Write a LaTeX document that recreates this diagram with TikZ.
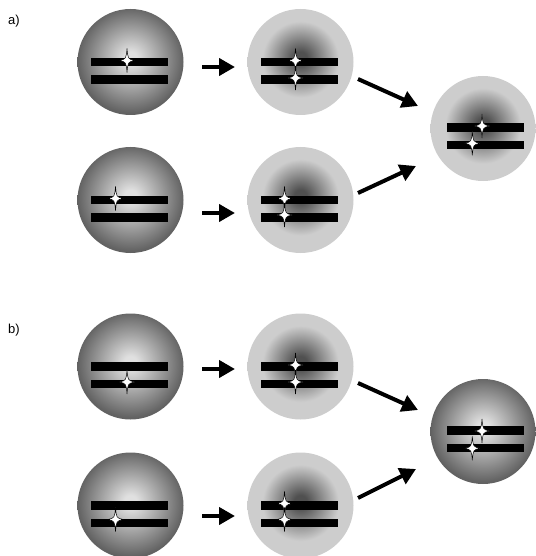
\documentclass[tikz,border=0pt]{standalone}
\usepackage{fontspec}
\setmainfont{Liberation Sans}
\usetikzlibrary{arrows.meta}
\definecolor{dcen}{RGB}{224,224,224}
\definecolor{drim}{RGB}{98,98,98}
\definecolor{lcen}{RGB}{80,80,80}
\definecolor{lrim}{RGB}{205,205,205}
\pgfdeclareradialshading{darkball}{\pgfpoint{0bp}{2bp}}{color(0bp)=(dcen); color(3bp)=(dcen); color(25bp)=(drim); color(50bp)=(drim)}
\pgfdeclareradialshading{lightball}{\pgfpoint{0bp}{2bp}}{color(0bp)=(lcen); color(3bp)=(lcen); color(18bp)=(lrim); color(25bp)=(lrim); color(50bp)=(lrim)}
\tikzset{
  ball/.style={circle, minimum size=106pt, inner sep=0pt, outer sep=0pt},
  darksph/.style={ball, shade, shading=darkball},
  lightsph/.style={ball, shade, shading=lightball},
  arr/.style={line width=4pt, -{Triangle[length=16pt,width=17pt]}},
  lab/.style={font=\fontsize{13}{15}\selectfont, anchor=base west, inner sep=0pt},
  bars/.pic={\fill[black] (-38.5,-4.25) rectangle (38.5,4.25);
             \fill[black] (-38.5,13.25) rectangle (38.5,21.75);},
  spark/.pic={\filldraw[fill=white, draw=black, line width=0.5pt]
     (0,-12) .. controls (0.9,-1.6) .. (7.5,0) .. controls (0.9,1.6) .. (0,12)
     .. controls (-0.9,1.6) .. (-7.5,0) .. controls (-0.9,-1.6) .. cycle;}
}
\begin{document}
\begin{tikzpicture}[x=1pt,y=-1pt]
\useasboundingbox (0,0) rectangle (535,556);
% labels
\node[lab] (la) at (8,25) {a)};
\node[lab] (lb) at (8,333) {b)};
% spheres a)
\node[darksph] (s1) at (130.5,62) {};
\node[lightsph] (s2) at (300.5,62) {};
\node[lightsph, minimum size=105pt] (s3) at (483,128.5) {};
\node[darksph] (s4) at (130.5,200) {};
\node[lightsph] (s5) at (300.5,200) {};
% spheres b)
\node[darksph] (s6) at (130.5,366.5) {};
\node[lightsph] (s7) at (300.5,366.5) {};
\node[darksph, minimum size=105pt] (s8) at (483,431.5) {};
\node[darksph] (s9) at (130.5,505.5) {};
\node[lightsph] (s10) at (300.5,505.5) {};
% bars
\foreach \s in {s1,s2,s4,s5,s6,s7,s9,s10}{
  \pic at ([shift={(-1,0)}]\s.center) {bars};
}
\foreach \s in {s3,s8}{
  \pic at ([shift={(2.5,-1)}]\s.center) {bars};
}
% sparks a)
\pic at ([shift={(-3.5,-1.5)}]s1.center) {spark};
\pic at ([shift={(-5,-1.5)}]s2.center) {spark};
\pic at ([shift={(-5,16)}]s2.center) {spark};
\pic at ([shift={(-1,-2.5)}]s3.center) {spark};
\pic at ([shift={(-10.7,14.8)}]s3.center) {spark};
\pic at ([shift={(-15,-1.5)}]s4.center) {spark};
\pic at ([shift={(-16,-1.5)}]s5.center) {spark};
\pic at ([shift={(-16,15)}]s5.center) {spark};
% sparks b)
\pic at ([shift={(-3.5,15.5)}]s6.center) {spark};
\pic at ([shift={(-5,-1.5)}]s7.center) {spark};
\pic at ([shift={(-5,15.5)}]s7.center) {spark};
\pic at ([shift={(-1,-0.5)}]s8.center) {spark};
\pic at ([shift={(-10.7,16.8)}]s8.center) {spark};
\pic at ([shift={(-15,14)}]s9.center) {spark};
\pic at ([shift={(-16,-2)}]s10.center) {spark};
\pic at ([shift={(-16,14)}]s10.center) {spark};
% arrows a)
\draw[arr] ([shift={(18.5,5)}]s1.east) -- ([shift={(-12.5,5)}]s2.west);
\draw[arr] ([shift={(18.5,13)}]s4.east) -- ([shift={(-12.5,13)}]s5.west);
\draw[arr] ([shift={(4.5,17)}]s2.east) -- ([shift={(-12.5,-22.5)}]s3.west);
\draw[arr] ([shift={(4.5,-7)}]s5.east) -- ([shift={(-14.5,37.5)}]s3.west);
% arrows b)
\draw[arr] ([shift={(18.5,2.5)}]s6.east) -- ([shift={(-12.5,2.5)}]s7.west);
\draw[arr] ([shift={(18.5,10.5)}]s9.east) -- ([shift={(-12.5,10.5)}]s10.west);
\draw[arr] ([shift={(4.5,16.5)}]s7.east) -- ([shift={(-12.5,-21.5)}]s8.west);
\draw[arr] ([shift={(4.5,-7.5)}]s10.east) -- ([shift={(-14.5,37.5)}]s8.west);
\end{tikzpicture}
\end{document}
